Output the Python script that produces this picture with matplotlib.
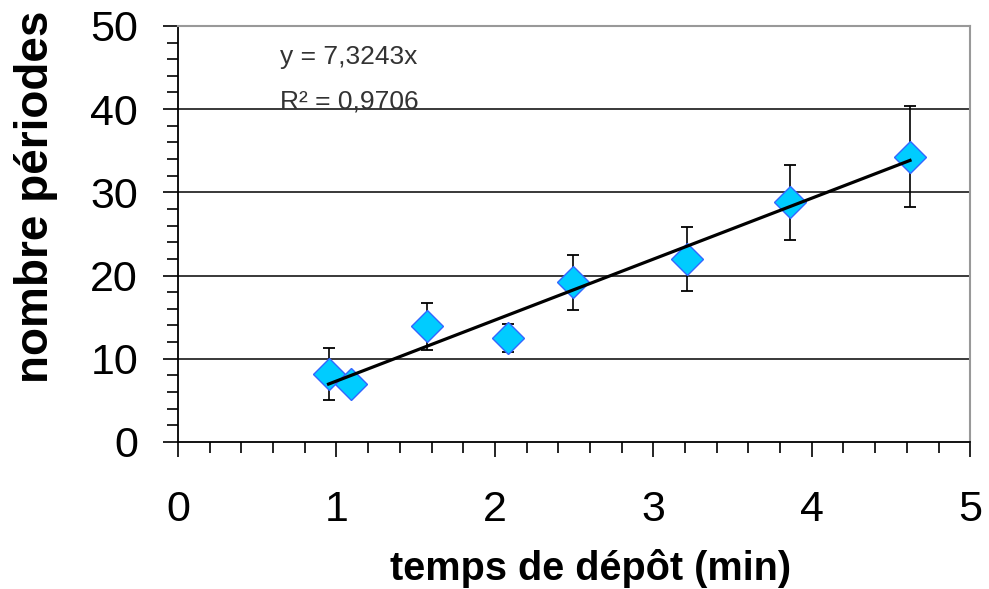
import numpy as np
import matplotlib
matplotlib.use('Agg')
import matplotlib.pyplot as plt
from matplotlib.ticker import MultipleLocator

plt.rcParams['font.family'] = ['Liberation Sans', 'DejaVu Sans']

# temps de dépôt (min), nombre de périodes, erreur
temps = [0.95, 1.09, 1.57, 2.08, 2.49, 3.21, 3.86, 4.62]
periodes = [8.2, 7.0, 13.9, 12.5, 19.2, 22.0, 28.8, 34.3]
erreur = [3.1, 1.0, 2.8, 1.7, 3.3, 3.8, 4.5, 6.1]
pente = 7.3243
r2 = '0,9706'


def make_graph():
    fig = plt.figure(figsize=(9.89, 5.89), dpi=100)
    ax = fig.add_axes([0.18, 0.2496, 0.801, 0.7064])
    ax.set_xlim(0, 5)
    ax.set_ylim(0, 50)

    for yv in [10, 20, 30, 40]:
        ax.axhline(yv, color='#2a2a2a', lw=1.3, zorder=1)

    ax.errorbar(temps, periodes, yerr=erreur, fmt='none', ecolor='black',
                elinewidth=1.2, capsize=4.5, capthick=1.3, zorder=2)
    ax.plot(temps, periodes, 'D', ms=16, mfc='#00CCFF', mec='#3366FF',
            mew=1, zorder=3)

    xt = np.array([min(temps), max(temps)])
    ax.plot(xt, pente * xt, color='black', lw=2.3, zorder=4)

    ax.text(0.644, 45.4, 'y = 7,3243x', fontsize=19, color='#333333',
            va='baseline', ha='left')
    ax.text(0.644, 40.05, 'R² = ' + r2, fontsize=19, color='#333333',
            va='baseline', ha='left')

    ax.xaxis.set_major_locator(MultipleLocator(1))
    ax.xaxis.set_minor_locator(MultipleLocator(0.2))
    ax.yaxis.set_major_locator(MultipleLocator(10))
    ax.yaxis.set_minor_locator(MultipleLocator(2))
    ax.tick_params(which='major', direction='out', length=10.8, width=1.2,
                   labelsize=31, color='black')
    ax.tick_params(which='minor', direction='out', length=8, width=1.2,
                   color='black')
    ax.tick_params(axis='x', which='major', pad=24)
    ax.tick_params(axis='y', which='major', pad=18)

    for side in ['left', 'bottom']:
        ax.spines[side].set_color('black')
        ax.spines[side].set_linewidth(1.3)
    for side in ['top', 'right']:
        ax.spines[side].set_color('#999999')
        ax.spines[side].set_linewidth(1.5)

    ax.set_xlabel('temps de dépôt (min)', fontsize=28.5, fontweight='bold')
    ax.set_ylabel('nombre périodes', fontsize=33, fontweight='bold')
    ax.xaxis.set_label_coords(0.521, -0.258)
    ax.yaxis.set_label_coords(-0.152, 0.59)

    fig.savefig('out.png', dpi=100)


if __name__ == '__main__':
    make_graph()
